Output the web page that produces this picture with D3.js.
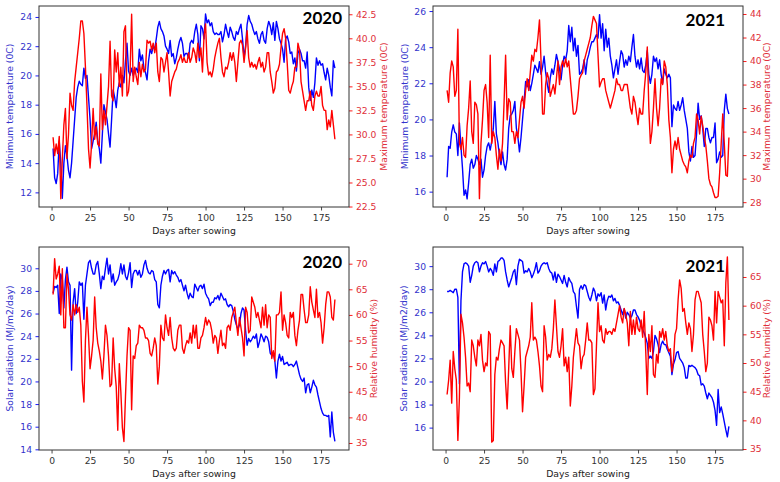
<!DOCTYPE html>
<meta charset="utf-8">
<style>
body { margin: 0; background: #fff; }
text { font-family: "DejaVu Sans", sans-serif; }
</style>
<svg width="780" height="482"></svg>
<script src="https://d3js.org/d3.v7.min.js"></script>
<script>

// daily weather, day 1 .. 184 after sowing
var firstDay = 1;

var minTemp2020 = [
  15, 13, 12.6, 13.3, 15.5, 14, 11.6, 14, 15.2, 14.5,
  13.5, 13, 14, 15.5, 17, 18.5, 19.2, 19.6, 19.4, 19.3,
  20.5, 19.8, 20, 18.5, 17, 15, 15.5, 16, 16.8, 15.5,
  15, 14, 16, 18, 17.5, 17, 16, 15.1, 17, 19,
  18.5, 17.8, 19, 19.5, 19.2, 20, 19.5, 21, 22.2, 20.3,
  20, 20.5, 20, 20.3, 20.5, 20.2, 21.8, 21, 21.4, 20.5,
  20.2, 19.7, 21, 21.8, 21.5, 22, 21.8, 22.5, 23.3, 23.7,
  23.2, 23, 22.7, 22, 21.8, 21.5, 22.4, 21.3, 21.5, 20.8,
  21.2, 21.8, 22.3, 22.6, 22.2, 21.3, 21.5, 21.5, 21.2, 22.2,
  22.4, 22.2, 23, 23.5, 22.8, 21, 23.4, 23.2, 22.5, 24.2,
  23.6, 23.8, 23.4, 23.6, 23, 22.8, 22.9, 22.8, 22.8, 23,
  22.3, 22.8, 23.5, 23, 22.6, 23.3, 23, 22.6, 22.4, 23,
  22.8, 23.2, 23.5, 22.5, 21.2, 22, 23.5, 24.1, 23.7, 23.5,
  23.1, 22.8, 23, 22.5, 22.2, 22.8, 23, 22.4, 22.2, 23.2,
  23.7, 23.4, 22.8, 23.6, 22.4, 23.7, 23.2, 22.5, 22.2, 21.8,
  20.9, 22.5, 22.7, 22.3, 21.5, 21.6, 20.8, 21.2, 20.3, 21.5,
  21.8, 21.5, 21, 21, 20.5, 21.6, 19.2, 18.3, 19, 18.5,
  19.5, 21.2, 20.7, 21, 20.7, 20.8, 20.2, 19.7, 20.5, 20,
  19.2, 18.6, 21, 20.5
];

var maxTemp2020 = [
  29.7, 27.8, 29, 28, 29.8, 23.3, 27.5, 31, 32.7, 27.5,
  30, 34.3, 33, 32.5, 35.5, 37, 38.5, 40, 41.8, 41.8,
  40.5, 37, 33, 28.5, 26.5, 29, 32.7, 29.5, 30.8, 29,
  28.8, 36.3, 30.5, 32.5, 31, 33, 35, 39.7, 34, 33.5,
  38.8, 36.5, 38.5, 35, 37, 34, 40.7, 41.3, 34, 34.5,
  36.5, 42.5, 35.5, 37, 36, 35.2, 37.5, 36, 37.3, 36.5,
  36.8, 39.8, 39.5, 39.7, 38.8, 39.5, 38.5, 39.5, 36.5, 35.5,
  38, 37.8, 36.5, 37.5, 38.5, 36.5, 34, 35.5, 36, 36.5,
  36.8, 37.5, 37.8, 38.3, 37.5, 38, 37.5, 37.5, 38.5, 37.5,
  38, 39, 38.5, 37.5, 39.5, 38, 39, 36.5, 40.2, 41.5,
  37.5, 36.2, 36.5, 36, 36.8, 38, 38.8, 39.5, 40, 38,
  36.5, 36, 37, 36.8, 37.5, 38.5, 37.7, 38.5, 37.5, 35.5,
  37.5, 39.5, 39.8, 39.3, 37.5, 39, 40.8, 38, 37, 37.5,
  37, 37.3, 36.8, 37.5, 38, 37, 37.5, 36.5, 37, 38.5,
  38.5, 36.5, 35.5, 34.3, 34.8, 36.5, 36.7, 37.3, 39, 40.5,
  41, 40, 37.5, 34.6, 34.3, 35, 35.5, 37, 37, 39.5,
  38.8, 35.5, 34.5, 33.5, 32.5, 33.5, 33.5, 34.5, 33, 32.5,
  34, 34.5, 34, 34, 35, 33, 32.5, 32.5, 30.5, 31.5,
  30.8, 32.5, 31, 29.5
];

var minTemp2021 = [
  16.8, 18.5, 18.4, 19.3, 19.7, 19.3, 19.2, 18, 19.8, 18.5,
  17.3, 15.8, 16.1, 15.6, 16.5, 17.5, 17.8, 17.3, 17.5, 18,
  17.8, 17.5, 17.8, 16.8, 17.2, 18, 18.5, 18.7, 18.3, 18.8,
  19.5, 21, 19.2, 18.7, 18, 17.5, 18.2, 17.5, 17.2, 17.8,
  19.5, 20.2, 20.3, 20.5, 21, 19.5, 19, 18.2, 19, 20,
  21, 22.1, 21.8, 22.2, 21.6, 22, 22.5, 23, 22.8, 22.6,
  23.2, 22.5, 22.9, 23.5, 22.6, 22, 21.5, 22.3, 22.8, 22.5,
  23, 23.6, 23.2, 22.8, 22.2, 23, 23.5, 23.3, 23.8, 25.2,
  24.3, 25.1, 23.8, 24.5, 23.5, 24.1, 22.5, 22.6, 22.8, 23.3,
  22.5, 23.3, 23.6, 24, 24.3, 24.3, 24.5, 24.7, 24.5, 25.8,
  24.5, 25.3, 23.8, 25, 24, 24.5, 23.5, 23, 22.3, 22.8,
  23.3, 22.5, 23.2, 23.8, 23.6, 22.9, 23.3, 23, 23.5, 23.2,
  24, 24.7, 23.5, 22.9, 23.3, 22.8, 23.4, 22.7, 22.6, 23,
  23.8, 22.5, 22, 22.5, 23.5, 23.2, 23.4, 22.8, 23.3, 22.5,
  22, 22.8, 22.5, 22.3, 22.5, 22.3, 19.6, 20.8, 20.6, 20.5,
  21, 20.5, 20.8, 21.2, 20.5, 20, 19.5, 18.2, 17.7, 18.5,
  17.9, 18, 19.2, 20.9, 20, 20.2, 19.5, 18.5, 19.5, 19.5,
  19, 18.7, 19, 19, 19.8, 17.6, 17.8, 18.2, 17.9, 18,
  20.5, 21.4, 20.6, 20.3
];

var maxTemp2021 = [
  37.5, 36.5, 39, 40, 39.5, 37, 37.5, 42.7, 33, 32.5,
  33.5, 32, 31.8, 34.5, 36, 38.3, 34, 33, 36.5, 36.3,
  35.5, 28.3, 33, 35, 37.5, 38, 36.5, 33.5, 40.5, 33,
  34, 33.5, 32, 30.8, 32.5, 31.5, 33, 36.5, 40.5, 35,
  36.8, 36.5, 34, 34, 33, 34, 33.5, 35, 36.5, 37,
  36, 37.5, 38.5, 37.5, 39, 40.5, 40, 41, 40.8, 42,
  43.5, 40, 35.5, 35.5, 38, 39, 38.5, 37, 37.5, 38,
  37.2, 38.5, 40, 38, 39.5, 40, 39.5, 40.2, 39.5, 40,
  38.5, 37, 35.5, 35.5, 35.8, 37, 38.5, 38.8, 39, 40,
  40.5, 41, 41.5, 42, 43, 43.8, 43.5, 43.2, 40.5, 37.8,
  38.2, 38.5, 38.5, 37.5, 37, 36.5, 36, 36.5, 37, 37.5,
  38.5, 38, 38, 37.5, 37.5, 38, 38, 38, 37, 36,
  35.5, 37, 36.5, 35.5, 34.6, 36, 35.5, 35.5, 37.5, 39,
  41.2, 36, 33, 34, 36, 38.5, 36, 34.5, 36, 38.5,
  38, 40, 39.5, 38, 35, 33.5, 30.5, 32.5, 33.2, 32.5,
  33.5, 32.5, 32, 31.5, 31.2, 31, 30.5, 31.5, 32, 31.8,
  33, 33.5, 35.5, 35, 33.8, 35.3, 34.5, 33.5, 32.8, 31.5,
  30, 29.5, 29.3, 28.8, 28.4, 28.4, 28.5, 30.5, 33, 35.5,
  33, 30.3, 30.2, 33.5
];

var solar2020 = [
  27.8, 28.4, 28.3, 28.5, 26, 29.5, 29, 26.5, 29, 30.1,
  28.8, 28.5, 21, 27, 28.2, 26, 27, 28.8, 28.5, 28.7,
  25.5, 28.5, 29.5, 30.5, 30.7, 30, 29.5, 29.5, 30.3, 30.6,
  29.5, 28.2, 29.3, 29, 30, 30.9, 29.5, 30.3, 28.8, 29.5,
  28.5, 28.8, 29, 29.5, 30.4, 29.5, 30.3, 29.3, 29, 29.6,
  30.5, 28.3, 29.5, 29.8, 29.8, 29.4, 29.8, 29.2, 29.5, 30.3,
  30.7, 30, 29.6, 29.5, 29.8, 29.7, 29, 28.8, 26.8, 26.5,
  28.5, 29.3, 29.8, 29.5, 29.8, 29.9, 28.8, 29.8, 29.5, 29.7,
  29.4, 29.2, 28.8, 29, 28.5, 28, 28.5, 27.8, 27.3, 27.8,
  27.5, 27.4, 28.6, 28.3, 28, 28.4, 28.5, 28.2, 28.6, 27.8,
  27.5, 27.3, 26.7, 27, 27, 27.4, 27.3, 27.6, 27.2, 27.8,
  27.5, 27.2, 27.3, 26.8, 26.6, 26.8, 26.7, 26.2, 25.5, 25,
  24.6, 25, 26, 26.5, 26.3, 24.5, 23.2, 23.8, 23.5, 23.7,
  24, 23.8, 24.2, 23, 23.5, 24.2, 23.9, 23.5, 24, 23.9,
  23.5, 22.5, 22.3, 22.5, 21.8, 20.3, 21.8, 22.4, 21.8, 22.2,
  21.5, 21.6, 21.7, 21.4, 21.5, 21.5, 21.3, 21.5, 21.8, 21.2,
  20.6, 20.2, 20, 20.3, 19, 19.7, 19.8, 19, 19.5, 20.1,
  19.7, 19.5, 18.8, 18.2, 17.6, 17.2, 17, 17, 16.9, 17,
  15.1, 17.3, 15.5, 14.7
];

var humidity2020 = [
  64, 71, 67, 68, 69.5, 60, 69, 57.5, 57.5, 68,
  65, 60, 59, 62, 60, 62, 60.5, 61.5, 58, 47,
  43, 55, 61.5, 56, 49.5, 52, 55, 63.5, 57.5, 54.5,
  53, 51, 47.5, 52, 58, 56, 52, 46, 46.5, 55.5,
  49.5, 46, 37.5, 50.5, 45, 38, 35.3, 44, 52, 57.5,
  57, 41.5, 52, 51.5, 54, 54.5, 58, 57.5, 57.5, 57,
  55.5, 55.5, 55, 52.5, 52, 53.5, 55.5, 54, 46.5, 50,
  58, 55.5, 55, 60, 57.5, 56, 59.5, 55.5, 53.5, 53,
  53.5, 57, 58, 58, 53.5, 52.5, 54, 55, 54.5, 56.5,
  54.5, 58, 55.5, 58, 53.5, 53.5, 55.5, 56, 57.5, 59.5,
  58, 59, 58.5, 57, 54.5, 56, 55.5, 52.5, 55, 57,
  54, 54.5, 53.5, 57.5, 58, 57, 59.5, 60.5, 61.5, 58.5,
  56, 59.5, 57.5, 55.5, 52, 61.5, 60.5, 56.5, 57, 63.5,
  62.5, 61.5, 59.5, 60.5, 59, 57.5, 61.5, 58, 62, 57.5,
  60, 59.5, 51.5, 53, 51, 60, 60, 60.5, 64.5, 57,
  60, 58.5, 56, 55.5, 60.5, 59.5, 60.5, 56, 54, 57,
  59, 64, 64, 61, 58.5, 58.5, 60, 65.5, 62.5, 61,
  59.5, 65, 59.5, 60.5, 58.5, 54.5, 57.5, 62, 64.5, 64.5,
  63.5, 59.5, 59, 63
];

var solar2021 = [
  27.8, 27.8, 27.9, 27.8, 27.7, 28, 28, 27.3, 19.8, 27,
  29.5, 30.2, 30.3, 30.2, 30, 28.6, 29.2, 30, 30.3, 30.4,
  30.3, 29.5, 30, 30.3, 30.2, 30.4, 30, 29.5, 29.8, 29.6,
  29.2, 30.2, 29.5, 30.4, 30.5, 30.7, 30.7, 30.5, 29.5, 28.8,
  28.2, 28.6, 29, 29.5, 29.7, 28.4, 30, 30.6, 30.5, 30.4,
  29.4, 29.6, 29.5, 29.8, 29.5, 29, 29.3, 29.7, 30.3, 29.4,
  29.6, 30, 30.2, 30.3, 30.2, 30.3, 29.8, 29.5, 29.4, 28.8,
  29.5, 28.6, 29.3, 29.1, 28.8, 28.5, 29.2, 28.6, 28.2, 29,
  28.7, 28.5, 27.8, 27.6, 26.5, 25.5, 28, 28.3, 28, 28.4,
  28.3, 27.8, 27.3, 27, 27.5, 28.1, 27.8, 27, 27.6, 27.4,
  27.7, 26.8, 27.5, 26.2, 27, 27.4, 27.3, 27.5, 27, 27.2,
  26.8, 26.9, 26.6, 26.2, 25.8, 26.3, 25.5, 26, 25.8, 25.5,
  25.7, 26.2, 26.2, 25.8, 25.6, 25.3, 24.8, 24.5, 24.2, 23.8,
  23.3, 22, 22.2, 22, 22.6, 24, 23.7, 23.2, 22.5, 23.2,
  23.5, 23.2, 23.2, 22.8, 22.5, 22.2, 20.6, 21.5, 21.9, 22.5,
  22.6, 22, 21.8, 21.6, 21.2, 20.3, 20.3, 21.4, 21.3, 21.4,
  21.3, 21.2, 21, 20.6, 20.5, 19.7, 19.8, 19.6, 19, 18.5,
  19, 18.8, 18.6, 18.2, 17.5, 16.2, 19.3, 17.3, 17.8, 17.2,
  16.5, 15.8, 15.2, 16.1
];

var humidity2021 = [
  44.5, 47, 50.5, 43, 52, 49, 47, 36.5, 44, 58.5,
  57, 54.5, 51, 46, 46.5, 45, 54, 53, 51, 49.5,
  54, 53, 55, 50.5, 48.5, 50, 49.5, 55.5, 55, 36.2,
  36.5, 48, 51, 50.5, 52.5, 54, 53.5, 53, 46.5, 42,
  49, 56.5, 49, 47.5, 52, 56, 55, 54, 48.5, 41.5,
  46, 51, 52, 53, 54.5, 60.5, 54, 54.5, 54, 52,
  49.5, 46, 45, 56.5, 54.5, 50.5, 51.5, 51, 52.5, 56,
  61, 56.5, 52, 51, 53, 56, 49.5, 51, 48.5, 51,
  42.5, 46, 51, 53.5, 56, 53.5, 53, 49, 51, 51.5,
  54, 57, 54, 54, 53.5, 44.5, 45.5, 53, 60.5, 55.5,
  56.5, 54, 53.5, 56, 55, 55.5, 55.5, 55, 56, 55.5,
  57, 58.5, 60, 58, 57, 59.5, 58.5, 57, 53, 59,
  55, 57.5, 55, 58, 56, 55.5, 57.5, 54.5, 59, 52,
  44.5, 55, 52, 56.5, 48, 47.5, 51.5, 50, 55.5, 54.5,
  56, 54, 55.5, 53, 52, 52.5, 48.5, 50.5, 55, 56,
  61, 64.5, 63, 59, 59.5, 57, 55, 57, 56, 52,
  55, 61, 62.5, 62.5, 61.5, 60.5, 55, 52, 48.5, 50,
  58, 57.5, 56.5, 54, 62.5, 57, 62.5, 61.5, 60.5, 61,
  53, 64, 68.5, 57.5
];

// tick labels
var dayTicks = [0, 25, 50, 75, 100, 125, 150, 175];
var minTempTicks2020 = [12, 14, 16, 18, 20, 22, 24];
var maxTempTicks2020 = [22.5, 25, 27.5, 30, 32.5, 35, 37.5, 40, 42.5];
var minTempTicks2021 = [16, 18, 20, 22, 24, 26];
var maxTempTicks2021 = [28, 30, 32, 34, 36, 38, 40, 42, 44];
var solarTicks2020 = [14, 16, 18, 20, 22, 24, 26, 28, 30];
var humidityTicks2020 = [35, 40, 45, 50, 55, 60, 65, 70];
var solarTicks2021 = [16, 18, 20, 22, 24, 26, 28, 30];
var humidityTicks2021 = [35, 40, 45, 50, 55, 60, 65];

var blue = "#0000ff", red = "#ff0000",
    blueText = "#3333cc", redText = "#e0303a";

var panels = [
  {left: minTemp2020, right: maxTemp2020, year: "2020",
   leftLabel: "Minimum temperature (0C)", rightLabel: "Maximum temperature (0C)",
   leftTicks: minTempTicks2020, rightTicks: maxTempTicks2020, rightFmt: ".1f",
   box: [39, 6, 349, 207], leftDomain: [11.0, 24.75], rightDomain: [22.45, 43.36],
   leftLabelX: 10, rightLabelX: 384, yearAt: [342, 23.5]},
  {left: minTemp2021, right: maxTemp2021, year: "2021",
   leftLabel: "Minimum temperature (0C)", rightLabel: "Maximum temperature (0C)",
   leftTicks: minTempTicks2021, rightTicks: maxTempTicks2021, rightFmt: "d",
   box: [433, 6, 743, 207], leftDomain: [15.15, 26.28], rightDomain: [27.59, 44.68],
   leftLabelX: 405, rightLabelX: 767, yearAt: [725, 26]},
  {left: solar2020, right: humidity2020, year: "2020",
   leftLabel: "Solar radiation (MJ/m2/day)", rightLabel: "Relative humidity (%)",
   leftTicks: solarTicks2020, rightTicks: humidityTicks2020, rightFmt: "d",
   box: [39, 247, 349, 450], leftDomain: [13.94, 31.88], rightDomain: [33.63, 73.26],
   leftLabelX: 10, rightLabelX: 374, yearAt: [342, 268]},
  {left: solar2021, right: humidity2021, year: "2021",
   leftLabel: "Solar radiation (MJ/m2/day)", rightLabel: "Relative humidity (%)",
   leftTicks: solarTicks2021, rightTicks: humidityTicks2021, rightFmt: "d",
   box: [433, 247, 743, 450], leftDomain: [14.06, 31.66], rightDomain: [34.83, 70.23],
   leftLabelX: 404, rightLabelX: 767, yearAt: [725, 271.5]}
];

var svg = d3.select("svg");

panels.forEach(function(p) {
  var x0 = p.box[0], y0 = p.box[1], x1 = p.box[2], y1 = p.box[3];

  var x = d3.scaleLinear().domain([-8.15, 193.15]).range([x0, x1]),
      yL = d3.scaleLinear().domain(p.leftDomain).range([y1, y0]),
      yR = d3.scaleLinear().domain(p.rightDomain).range([y1, y0]);

  var g = svg.append("g");

  function styleAxis(sel, col, textCol) {
    sel.select(".domain").remove();
    sel.selectAll(".tick line").attr("stroke", col).attr("stroke-width", 0.9);
    sel.selectAll(".tick text").attr("fill", textCol)
      .style("font-family", "'DejaVu Sans', sans-serif").style("font-size", "9.2px");
  }

  g.append("g")
      .attr("transform", "translate(0," + y1 + ")")
      .call(d3.axisBottom(x).tickValues(dayTicks).tickSize(3.5).tickPadding(3.5))
      .call(styleAxis, "#333", "#333");

  g.append("g")
      .attr("transform", "translate(" + x0 + ",0)")
      .call(d3.axisLeft(yL).tickValues(p.leftTicks).tickFormat(d3.format("d")).tickSize(3.5).tickPadding(3.5))
      .call(styleAxis, blue, blueText);

  g.append("g")
      .attr("transform", "translate(" + x1 + ",0)")
      .call(d3.axisRight(yR).tickValues(p.rightTicks).tickFormat(d3.format(p.rightFmt)).tickSize(3.5).tickPadding(3.5))
      .call(styleAxis, red, redText);

  var clip = "clip" + x0 + "_" + y0;
  g.append("clipPath").attr("id", clip)
    .append("rect").attr("x", x0).attr("y", y0).attr("width", x1 - x0).attr("height", y1 - y0);

  var lineL = d3.line().x(function(d, i) { return x(firstDay + i); }).y(function(d) { return yL(d); });
  var lineR = d3.line().x(function(d, i) { return x(firstDay + i); }).y(function(d) { return yR(d); });

  g.append("path").datum(p.left)
      .attr("clip-path", "url(#" + clip + ")")
      .attr("fill", "none").attr("stroke", blue).attr("stroke-width", 1.4)
      .attr("stroke-linejoin", "round").attr("d", lineL);

  g.append("path").datum(p.right)
      .attr("clip-path", "url(#" + clip + ")")
      .attr("fill", "none").attr("stroke", red).attr("stroke-width", 1.4)
      .attr("stroke-linejoin", "round").attr("d", lineR);

  g.append("rect")
      .attr("x", x0).attr("y", y0).attr("width", x1 - x0).attr("height", y1 - y0)
      .attr("fill", "none").attr("stroke", "#333").attr("stroke-width", 1);

  g.append("text")
      .attr("x", (x0 + x1) / 2).attr("y", y1 + 27)
      .attr("text-anchor", "middle").attr("fill", "#222")
      .style("font-size", "9.3px")
      .text("Days after sowing");

  g.append("text")
      .attr("transform", "translate(" + p.leftLabelX + "," + (y0 + y1) / 2 + ") rotate(-90)")
      .attr("text-anchor", "middle").attr("dy", "0.35em").attr("fill", blueText)
      .style("font-size", "9.2px")
      .text(p.leftLabel);

  g.append("text")
      .attr("transform", "translate(" + p.rightLabelX + "," + (y0 + y1) / 2 + ") rotate(-90)")
      .attr("text-anchor", "middle").attr("dy", "0.35em").attr("fill", redText)
      .style("font-size", "9.2px")
      .text(p.rightLabel);

  g.append("text")
      .attr("x", p.yearAt[0]).attr("y", p.yearAt[1])
      .attr("text-anchor", "end").attr("fill", "#000")
      .style("font-family", "Lato, 'Open Sans', sans-serif")
      .style("font-weight", "bold").style("font-size", "17px")
      .text(p.year);
});

</script>
